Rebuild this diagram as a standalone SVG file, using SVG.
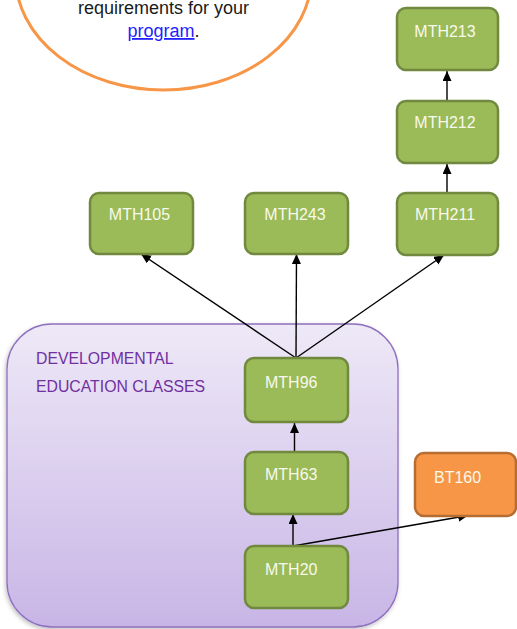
<svg xmlns="http://www.w3.org/2000/svg" width="517" height="629" viewBox="0 0 517 629">
<style>
.node rect.g{fill:#9bbb59;stroke:#71893f;stroke-width:2.5}
.node rect.o{fill:#f79646;stroke:#b66d31;stroke-width:2.5}
.lbl{font-family:"Liberation Sans",Arial,sans-serif;font-size:16px;fill:#f8f9ec}
.c{text-anchor:middle}
.edge{stroke:#000;stroke-width:1.4;fill:none;marker-end:url(#ah)}
.dev{font-family:"Liberation Sans",Arial,sans-serif;font-size:15.8px;fill:#7030a0}
.note{font-family:"Liberation Sans",Arial,sans-serif;font-size:18px;fill:#1a1a1a;text-anchor:middle}
</style>
<defs>
<marker id="ah" markerUnits="userSpaceOnUse" markerWidth="11" markerHeight="10" refX="10" refY="4.5" orient="auto">
<path d="M0,0 L10,4.5 L0,9 z" fill="#000"/>
</marker>
<linearGradient id="pg" x1="0" y1="0" x2="0" y2="1">
<stop offset="0" stop-color="#eee9f7"/>
<stop offset="1" stop-color="#c8b5e6"/>
</linearGradient>
<filter id="sh" x="-10%" y="-10%" width="120%" height="120%">
<feDropShadow dx="-1" dy="2" stdDeviation="2" flood-color="#000" flood-opacity="0.25"/>
</filter>
</defs>

<g id="note">
<ellipse cx="163.5" cy="-24" rx="148" ry="114" fill="#fff" stroke="#f79646" stroke-width="3"/>
<text class="note" x="163.5" y="13.5">requirements for your</text>
<text class="note" x="163.5" y="37"><tspan fill="#1f1fff" text-decoration="underline">program</tspan>.</text>
</g>

<g id="developmental">
<rect x="7" y="324" width="391" height="303" rx="45" ry="45" fill="url(#pg)" stroke="#8e6fbf" stroke-width="1.3" filter="url(#sh)"/>
<text class="dev" x="36" y="364">DEVELOPMENTAL</text>
<text class="dev" x="36" y="391.5">EDUCATION CLASSES</text>
</g>

<g id="connectors">
<line class="edge" x1="447" y1="101" x2="447" y2="71"/>
<line class="edge" x1="447" y1="193" x2="447" y2="164"/>
<line class="edge" x1="296" y1="358" x2="141" y2="254"/>
<line class="edge" x1="296" y1="358" x2="296.5" y2="254"/>
<line class="edge" x1="296" y1="358" x2="444" y2="255"/>
<line class="edge" x1="294.5" y1="452" x2="294.5" y2="423"/>
<line class="edge" x1="293" y1="546" x2="293" y2="514"/>
<line class="edge" x1="293" y1="546" x2="468" y2="515.5"/>
</g>

<g id="MTH213" class="node"><rect class="g" x="397" y="8" width="101" height="62" rx="9"/><text class="lbl c" x="445" y="37">MTH213</text></g>
<g id="MTH212" class="node"><rect class="g" x="397" y="101" width="101" height="62" rx="9"/><text class="lbl c" x="445" y="128">MTH212</text></g>
<g id="MTH211" class="node"><rect class="g" x="397" y="193" width="101" height="62" rx="9"/><text class="lbl c" x="445" y="220">MTH211</text></g>
<g id="MTH105" class="node"><rect class="g" x="90" y="193" width="103" height="61" rx="9"/><text class="lbl c" x="139.5" y="220">MTH105</text></g>
<g id="MTH243" class="node"><rect class="g" x="245" y="193" width="103" height="61" rx="9"/><text class="lbl c" x="295" y="220">MTH243</text></g>
<g id="MTH96" class="node"><rect class="g" x="245" y="358" width="103" height="64" rx="9"/><text class="lbl" x="265" y="388">MTH96</text></g>
<g id="MTH63" class="node"><rect class="g" x="245" y="452" width="103" height="62" rx="9"/><text class="lbl" x="265" y="480">MTH63</text></g>
<g id="MTH20" class="node"><rect class="g" x="245" y="546" width="103" height="62" rx="9"/><text class="lbl" x="265" y="575">MTH20</text></g>
<g id="BT160" class="node"><rect class="o" x="415" y="453" width="101" height="63" rx="9"/><text class="lbl" x="434" y="483">BT160</text></g>
</svg>
